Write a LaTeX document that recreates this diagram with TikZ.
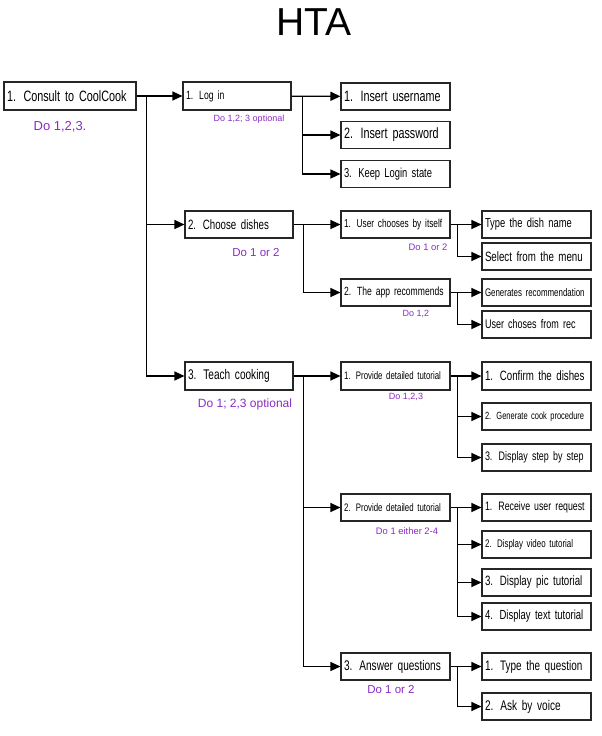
\documentclass[tikz,border=0pt]{standalone}
\usepackage{fontspec}
\usetikzlibrary{arrows.meta}
\newfontfamily\handfont[FakeStretch=0.72]{Liberation Sans}
\newfontfamily\notefont{Liberation Sans}
\newfontfamily\titlefont{Liberation Sans}
\definecolor{notecolor}{HTML}{8A2BC2}
\begin{document}
\begin{tikzpicture}[x=1pt, y=-1pt,
	box/.style={draw=black!85, line width=1.1pt, rectangle, minimum height=27pt, inner xsep=3pt, inner ysep=2pt, text width=103pt, align=left, font=\handfont\fontsize{#1}{#1}\selectfont},
	box/.default=11,
	note/.style={text=notecolor, inner sep=0pt, font=\notefont\fontsize{#1}{#1}\selectfont},
	note/.default=9,
	link/.style={line width=1.2pt, -{Triangle[length=10pt,width=9pt]}}]
	\useasboundingbox (0,0) rectangle (602,736);
	\node (title) at (314, 22)	[font=\titlefont\fontsize{39}{40}\selectfont]	{HTA};
	% top level
	\node (root) at (70, 96)	[box=15, text width=126pt, minimum height=28pt]	{1. Consult to CoolCook};
	\node (rootnote) at (60, 127)	[note=13]	{Do 1,2,3.};
	% second level
	\node (login) at (237, 96)	[box=12, text width=102pt, minimum height=28pt]	{1. Log in};
	\node (loginnote) at (249, 119)	[note]	{Do 1,2; 3 optional};
	\node (choose) at (239, 224.5)	[box=13.5, text width=102pt]	{2. Choose dishes};
	\node (choosenote) at (256, 253)	[note=11.5]	{Do 1 or 2};
	\node (teach) at (239, 376)	[box=14, text width=102pt, minimum height=28pt]	{3. Teach cooking};
	\node (teachnote) at (245, 404)	[note=12]	{Do 1; 2,3 optional};
	% log in
	\node (user) at (395.5, 96.5)	[box=15]	{1. Insert username};
	\node (pass) at (395.5, 135)	[box=15]	{2. Insert password};
	\node (keep) at (395.5, 174)	[box=13]	{3. Keep Login state};
	% choose dishes
	\node (itself) at (395.5, 224.5)	[box=11.5]	{1. User chooses by itself};
	\node (itselfnote) at (428, 247)	[note=9.4]	{Do 1 or 2};
	\node (recom) at (395.5, 292.5)	[box=11.9]	{2. The app recommends};
	\node (recomnote) at (416, 314)	[note]	{Do 1,2};
	\node (dishname) at (536.5, 224.5)	[box=13]	{Type the dish name};
	\node (menu) at (536.5, 256.5)	[box=13.5]	{Select from the menu};
	\node (gen) at (536.5, 292.5)	[box]	{Generates recommendation};
	\node (fromrec) at (536.5, 324.5)	[box=12.5]	{User choses from rec};
	% teach cooking
	\node (tutA) at (395.5, 376)	[box=10.9, minimum height=28pt]	{1. Provide detailed tutorial};
	\node (tutAnote) at (406, 397)	[note]	{Do 1,2,3};
	\node (tutB) at (395.5, 507.5)	[box=10.9]	{2. Provide detailed tutorial};
	\node (tutBnote) at (407, 531)	[note=9.4]	{Do 1 either 2-4};
	\node (answer) at (395.5, 666.5)	[box=14]	{3. Answer questions};
	\node (answernote) at (391, 690)	[note=11.5]	{Do 1 or 2};
	\node (confirm) at (536.5, 376)	[box=13.5, minimum height=28pt]	{1. Confirm the dishes};
	\node (proc) at (536.5, 416.5)	[box=10.4]	{2. Generate cook procedure};
	\node (step) at (536.5, 457.5)	[box=12.4]	{3. Display step by step};
	\node (request) at (536.5, 507.5)	[box=12.2]	{1. Receive user request};
	\node (video) at (536.5, 544.5)	[box]	{2. Display video tutorial};
	\node (pic) at (536.5, 582.5)	[box=13.5]	{3. Display pic tutorial};
	\node (text) at (536.5, 616.5)	[box=13.2]	{4. Display text tutorial};
	\node (typeq) at (536.5, 666.5)	[box=13.8]	{1. Type the question};
	\node (voice) at (536.5, 706.5)	[box=14]	{2. Ask by voice};
	% connectors
	\draw[link] (root) -- (login);
	\draw[link] ([xshift=10pt]root.east) |- (choose.west);
	\draw[link] ([xshift=10pt]root.east) |- (teach.west);
	\draw[link] (login) -- (user);
	\draw[link] ([xshift=11pt]login.east) |- (pass.west);
	\draw[link] ([xshift=11pt]login.east) |- (keep.west);
	\draw[link] (choose) -- (itself);
	\draw[link] ([xshift=10pt]choose.east) |- (recom.west);
	\draw[link] (itself) -- (dishname);
	\draw[link] ([xshift=7pt]itself.east) |- (menu.west);
	\draw[link] (recom) -- (gen);
	\draw[link] ([xshift=7pt]recom.east) |- (fromrec.west);
	\draw[link] (teach) -- (tutA);
	\draw[link] ([xshift=10pt]teach.east) |- (tutB.west);
	\draw[link] ([xshift=10pt]teach.east) |- (answer.west);
	\draw[link] (tutA) -- (confirm);
	\draw[link] ([xshift=7pt]tutA.east) |- (proc.west);
	\draw[link] ([xshift=7pt]tutA.east) |- (step.west);
	\draw[link] (tutB) -- (request);
	\draw[link] ([xshift=7pt]tutB.east) |- (video.west);
	\draw[link] ([xshift=7pt]tutB.east) |- (pic.west);
	\draw[link] ([xshift=7pt]tutB.east) |- (text.west);
	\draw[link] (answer) -- (typeq);
	\draw[link] ([xshift=7pt]answer.east) |- (voice.west);
\end{tikzpicture}
\end{document}
